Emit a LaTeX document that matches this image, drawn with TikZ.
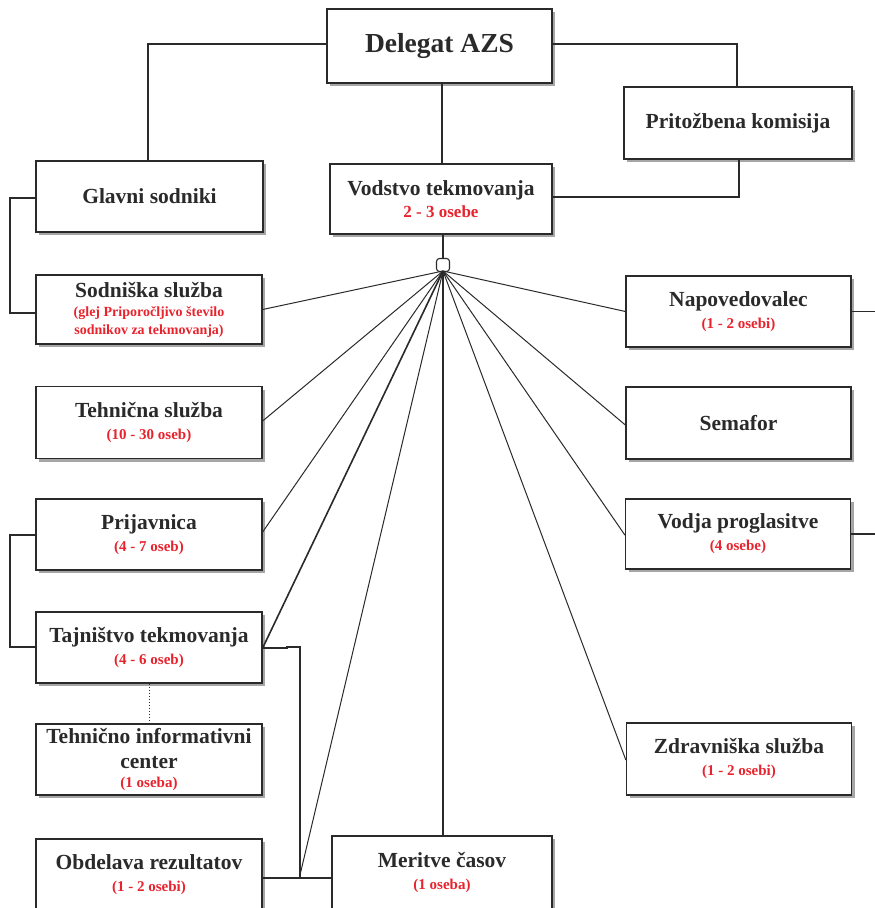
\documentclass[tikz,border=0pt]{standalone}
\usepackage{fontspec}
\setmainfont{Liberation Serif}
\usetikzlibrary{shadows}
\definecolor{ink}{HTML}{2A2A2A}
\definecolor{redt}{HTML}{E8232D}
\newcommand\ttlfont{\fontsize{21.5}{24}\selectfont\bfseries}
\newcommand\delfont{\fontsize{27.5}{30}\selectfont\bfseries}
\newcommand\subtx[1]{{\color{redt}\fontsize{15}{18}\selectfont #1}}
\newcommand\subsm[1]{{\color{redt}\fontsize{14}{16}\selectfont #1}}
\begin{document}
\begin{tikzpicture}[x=1pt,y=-1pt,
  box/.style={draw=ink, line width=1.3pt, fill=white, minimum width=226pt, minimum height=71pt,
    inner sep=2pt, align=center, text=ink, font=\ttlfont,
    drop shadow={shadow xshift=3pt, shadow yshift=-3pt, fill=black, opacity=0.35}},
  conn/.style={draw=ink, line width=1.2pt},
  spoke/.style={draw=ink, line width=1pt}]
\clip (0,0) rectangle (875,908);
\fill[white] (0,0) rectangle (875,908);

% boxes
\node[box, minimum width=225pt, minimum height=74pt, font=\delfont] (del) at (439.5,46) {Delegat AZS};
\node[box, minimum width=228pt, minimum height=72pt] (pri) at (738,123) {Pritožbena komisija};
\node[box, minimum width=227pt] (gla) at (149.5,196.5) {Glavni sodniki};
\node[box, minimum width=222pt, minimum height=70pt] (vod) at (441,199) {Vodstvo tekmovanja\\[-2pt]{\color{redt}\fontsize{17}{18}\selectfont 2 - 3 osebe}};
\node[box, minimum height=69pt] (sod) at (149,309.5) {Sodniška služba\\[-5pt]\subsm{(glej Priporočljivo število}\\[-6pt]\subsm{sodnikov za tekmovanja)}};
\node[box, minimum width=225pt] (nap) at (738.5,311.5) {Napovedovalec\\[-2pt]\subtx{(1 - 2 osebi)}};
\node[box, minimum height=72pt] (teh) at (149,422.5) {Tehnična služba\\[-2pt]\subtx{(10 - 30 oseb)}};
\node[box, minimum width=225pt, minimum height=72pt] (sem) at (738.5,423) {Semafor};
\node[box] (prj) at (149,534.5) {Prijavnica\\[-2pt]\subtx{(4 - 7 oseb)}};
\node[box, minimum width=225pt, minimum height=70pt] (vpr) at (738,534) {Vodja proglasitve\\[-2pt]\subtx{(4 osebe)}};
\node[box] (taj) at (149,647.5) {Tajništvo tekmovanja\\[-2pt]\subtx{(4 - 6 oseb)}};
\node[box] (tic) at (149,759.5) {Tehnično informativni\\[1pt]center\\[-5pt]\subtx{(1 oseba)}};
\node[box, minimum width=225pt, minimum height=72pt] (zdr) at (739,759) {Zdravniška služba\\[-2pt]\subtx{(1 - 2 osebi)}};
\node[box, minimum height=72pt] (obd) at (149,875) {Obdelava rezultatov\\[-2pt]\subtx{(1 - 2 osebi)}};
\node[box, minimum width=220pt, minimum height=74pt] (mer) at (442,873) {Meritve časov\\[-2pt]\subtx{(1 oseba)}};

% hub
\node[draw=ink, line width=1.1pt, fill=white, rounded corners=3pt, minimum size=13pt, inner sep=0pt] (hub) at (443,265) {};
\coordinate (hb) at (443,271);
\coordinate (ob) at (300,875);

% tree connectors
\draw[conn] (del.west |- 0,44) -- (148,44) -- (148,0 |- gla.north);
\draw[conn] (del.east |- 0,44) -- (737,44) -- (737,0 |- pri.north);
\draw[conn] (442,0 |- del.south) -- (442,0 |- vod.north);
\draw[conn] (vod.east |- 0,197) -- (739,197) -- (739,0 |- pri.south);
\draw[conn] (443,0 |- vod.south) -- (hub.north);
\draw[conn] (gla.west |- 0,198) -- (10,198) -- (10,313) -- (sod.west |- 0,313);
\draw[conn] (prj.west |- 0,535) -- (10,535) -- (10,647) -- (taj.west |- 0,647);
\draw[draw=ink, line width=1pt, dotted] (taj.south) -- (tic.north);
\draw[conn] (taj.east |- 0,648) -- (287,648) -- (287,647) -- (300,647) -- (300,878);
\draw[conn] (obd.east |- 0,878) -- (mer.west |- 0,878);
\draw[conn] (nap.east) -- (875,0 |- nap.east);
\draw[conn] (vpr.east) -- (875,0 |- vpr.east);

% spokes
\draw[spoke] (hb) -- (sod.east);
\draw[spoke] (hb) -- (teh.east |- 0,421);
\draw[spoke] (hb) -- (prj.east |- 0,532);
\draw[spoke, line width=1.6pt] (hb) -- (taj.east |- 0,648);
\draw[spoke] (hb) -- (ob);
\draw[spoke, line width=1.2pt] (hb) -- (443,0 |- mer.north);
\draw[spoke] (hb) -- (nap.west);
\draw[spoke] (hb) -- (sem.west |- 0,425);
\draw[spoke] (hb) -- (vpr.west |- 0,535);
\draw[spoke] (hb) -- (zdr.west |- 0,760);
\end{tikzpicture}
\end{document}
